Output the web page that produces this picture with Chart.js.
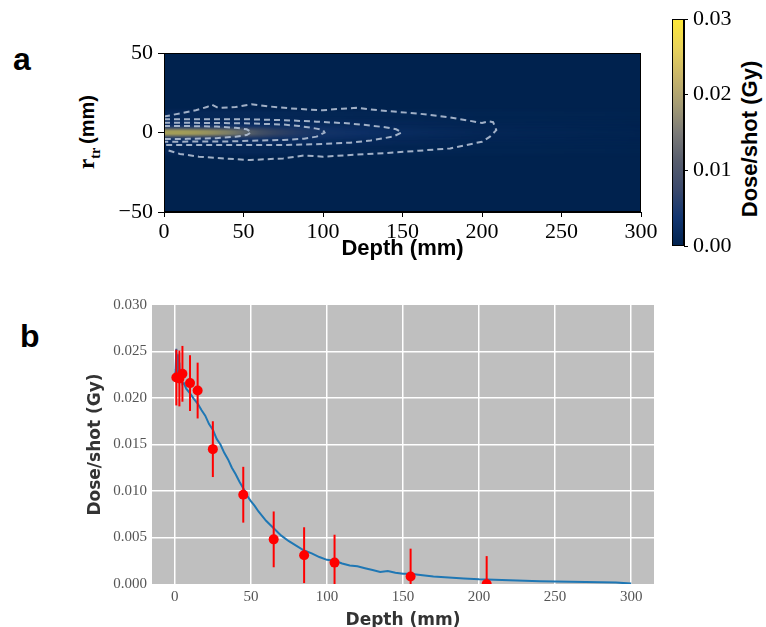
<!DOCTYPE html>
<html>
<head>
<meta charset="utf-8">
<script src="https://cdn.jsdelivr.net/npm/chart.js@4.4.1/dist/chart.umd.min.js"></script>
<style>
  body { margin: 0; background: #fff; }
  #page { position: relative; width: 766px; height: 627px; overflow: hidden; }
  canvas { position: absolute; }
  .panel { position: absolute; font-family: 'Liberation Sans', Arial, sans-serif; font-weight: bold; font-size: 32px; line-height: 32px; color: #000; }
  .rot { position: absolute; white-space: nowrap; transform: translate(-50%, -50%) rotate(-90deg); color: #000; }
</style>
</head>
<body>
<div id="page">
  <div class="panel" style="left:13px; top:43px;">a</div>
  <div class="panel" style="left:20px; top:320px;">b</div>
  <div class="rot" style="left:89px; top:132px;"><span style="font-family:'Liberation Serif'; font-weight:bold; font-size:23px;">r<sub style="font-size:14px;">tr</sub></span> <span style="font-family:'Liberation Sans'; font-weight:bold; font-size:20px;">(mm)</span></div>
  <div class="rot" style="left:750px; top:139px; font: bold 22px 'Liberation Sans';">Dose/shot (Gy)</div>
  <canvas id="map" width="660" height="290" style="left:0; top:0;"></canvas>
  <canvas id="cbar" width="116" height="290" style="left:650px; top:0;"></canvas>
  <canvas id="dose" width="766" height="337" style="left:0; top:290px;"></canvas>
</div>
<script>
// ---- panel a: dose map ----
const mapXTicks = [0, 50, 100, 150, 200, 250, 300];
const mapYTicks = [-50, 0, 50];
const cbarTicks = [0, 0.01, 0.02, 0.03];

// dose along depth in radial bands |r| (mm)
const heatDepth = [0, 10, 20, 30, 40, 50, 60, 70, 85, 100, 125, 150, 200, 300];
const bandEdges = [0, 1.5, 3, 5, 8, 14];
const band0 = [0.026, 0.026, 0.025, 0.023, 0.020, 0.016, 0.012, 0.009, 0.006, 0.0045, 0.0035, 0.0025, 0.0012, 0.0003];
const band1 = [0.013, 0.013, 0.012, 0.011, 0.010, 0.009, 0.008, 0.006, 0.005, 0.004, 0.003, 0.002, 0.001, 0.0002];
const band2 = [0.004, 0.004, 0.004, 0.004, 0.004, 0.0035, 0.0035, 0.003, 0.003, 0.0025, 0.002, 0.0015, 0.0008, 0.0002];
const band3 = [0.002, 0.002, 0.002, 0.002, 0.002, 0.002, 0.002, 0.002, 0.0018, 0.0015, 0.0012, 0.001, 0.0005, 0.0001];
const band4 = [0.001, 0.001, 0.001, 0.001, 0.001, 0.001, 0.001, 0.0009, 0.0008, 0.0007, 0.0006, 0.0005, 0.0003, 0.0001];
const bands = [band0, band1, band2, band3, band4];

// dashed iso-dose contours
const outerDepth = [0, 10, 20, 27, 30, 34, 45, 55, 65, 79, 90, 100, 112, 121, 140, 159, 180, 200, 204, 207, 209, 205, 200, 180, 160, 138, 120, 100, 88, 75, 54, 40, 22, 10, 2, 0];
const outerR     = [10, 12, 14, 16, 17.5, 15.5, 16, 17.8, 16.5, 15.2, 14.5, 14, 15, 15.5, 13.5, 12, 9.5, 6, 7, 6.5, 1.5, -2.6, -5.8, -10, -11.5, -13, -14, -15.2, -14.5, -16.3, -17.3, -16.5, -15.2, -13.5, -11, -11];
const c2Depth = [0, 30, 54, 75, 96, 115, 127, 140, 146, 149.5, 144, 130, 117, 95, 75, 40, 0];
const c2R     = [8.3, 8.3, 8.3, 7.8, 6.8, 5.8, 4.7, 3.2, 2, 0, -2.6, -5, -6.4, -7.4, -7.9, -7.9, -7.9];
const c3Depth = [0, 30, 54, 75, 85, 95, 100, 101, 96, 88, 75, 40, 0];
const c3R     = [6.2, 6, 5.7, 5, 4.1, 2.6, 1.6, 0, -2.6, -3.9, -4.7, -5.6, -5.8];
const c4Depth = [0, 20, 33, 45, 52, 55, 52, 45, 33, 15, 0];
const c4R     = [4.1, 4, 3.7, 3, 2, 0.2, -1.6, -2.6, -3.6, -4, -4.1];
const contours = [[outerDepth, outerR], [c2Depth, c2R], [c3Depth, c3R], [c4Depth, c4R]];

// ---- panel b: depth dose ----
const doseXTicks = [0, 50, 100, 150, 200, 250, 300];
const doseYTicks = [0, 0.005, 0.010, 0.015, 0.020, 0.025, 0.030];
const simDepth = [0, 0.5, 1, 1.5, 2, 2.5, 3, 3.5, 4, 5, 6, 7.5, 10, 12.5, 15, 17.5, 20, 22.5, 25, 27.5, 30, 32.5, 35, 37.5, 40, 42.5, 45, 47.5, 50, 52.5, 55, 57.5, 60, 65, 70, 75, 80, 85, 90, 95, 100, 105, 110, 115, 120, 125, 130, 135, 140, 145, 150, 155, 160, 170, 180, 190, 200, 210, 220, 230, 240, 250, 260, 270, 280, 290, 300];
const simDose  = [0.0222, 0.0231, 0.0253, 0.0221, 0.0247, 0.0220, 0.0238, 0.0218, 0.0224, 0.0215, 0.0216, 0.0210, 0.0205, 0.0199, 0.0194, 0.0187, 0.0181, 0.0172, 0.0166, 0.0156, 0.0150, 0.0141, 0.0134, 0.0125, 0.0118, 0.0110, 0.0103, 0.0095, 0.0089, 0.0084, 0.0078, 0.0073, 0.0068, 0.0060, 0.0052, 0.0046, 0.0041, 0.0036, 0.0033, 0.0029, 0.0026, 0.0025, 0.0022, 0.0020, 0.0019, 0.0017, 0.0015, 0.0013, 0.0014, 0.0012, 0.0011, 0.0011, 0.0010, 0.0008, 0.0007, 0.0006, 0.0005, 0.00045, 0.0004, 0.00035, 0.0003, 0.00028, 0.00025, 0.00022, 0.0002, 0.00015, 0.00005];
const measDepth = [1, 3, 5, 10, 15, 25, 45, 65, 85, 105, 155, 205];
const measDose  = [0.0222, 0.0221, 0.0226, 0.0216, 0.0208, 0.0145, 0.0096, 0.0048, 0.0031, 0.0023, 0.0008, 0.0];
const measErr   = [0.003, 0.003, 0.003, 0.003, 0.003, 0.003, 0.003, 0.003, 0.003, 0.003, 0.003, 0.003];

// cividis colormap stops
const cividisStops = [
  [0, [0, 34, 78]], [0.125, [18, 53, 112]], [0.25, [59, 73, 108]], [0.375, [87, 93, 109]],
  [0.5, [124, 123, 120]], [0.625, [165, 156, 116]], [0.75, [201, 182, 106]], [0.875, [233, 211, 90]], [1, [254, 232, 56]]
];
function cividis(t) {
  t = Math.max(0, Math.min(1, t));
  for (let i = 1; i < cividisStops.length; i++) {
    const [t1, c1] = cividisStops[i];
    const [t0, c0] = cividisStops[i - 1];
    if (t <= t1) {
      const f = (t - t0) / (t1 - t0);
      const c = c0.map((v, k) => Math.round(v + (c1[k] - v) * f));
      return `rgb(${c[0]},${c[1]},${c[2]})`;
    }
  }
  return 'rgb(254,232,56)';
}
const doseMax = cbarTicks[cbarTicks.length - 1];
const fixTicks = list => scale => { scale.ticks = list.map(v => ({ value: v })); };

// draws the dose map cells under the contours
const heatmapPlugin = {
  id: 'heatmap',
  beforeDatasetsDraw(chart) {
    const { ctx, chartArea: a, scales: { x, y } } = chart;
    ctx.save();
    ctx.beginPath();
    ctx.rect(a.left, a.top, a.width, a.height);
    ctx.clip();
    ctx.fillStyle = cividis(0);
    ctx.fillRect(a.left, a.top, a.width, a.height);
    ctx.filter = 'blur(1.5px)';
    const p0 = x.getPixelForValue(heatDepth[0]);
    const p1 = x.getPixelForValue(heatDepth[heatDepth.length - 1]);
    for (let b = bands.length - 1; b >= 0; b--) {
      const g = ctx.createLinearGradient(p0, 0, p1, 0);
      heatDepth.forEach((d, i) => {
        g.addColorStop((x.getPixelForValue(d) - p0) / (p1 - p0), cividis(bands[b][i] / doseMax));
      });
      ctx.fillStyle = g;
      const yIn = y.getPixelForValue(bandEdges[b]);
      const yOut = y.getPixelForValue(bandEdges[b + 1]);
      const yInN = y.getPixelForValue(-bandEdges[b]);
      const yOutN = y.getPixelForValue(-bandEdges[b + 1]);
      ctx.fillRect(a.left - 10, yOut, a.width + 20, yIn - yOut);
      ctx.fillRect(a.left - 10, yInN, a.width + 20, yOutN - yInN);
    }
    ctx.restore();
  }
};

const framePlugin = {
  id: 'frame',
  afterDraw(chart) {
    const { ctx, chartArea: a } = chart;
    ctx.save();
    ctx.strokeStyle = '#000';
    ctx.lineWidth = 1;
    ctx.strokeRect(a.left + 0.5, a.top + 0.5, a.width - 1, a.height - 1);
    ctx.restore();
  }
};

const serifTicks = size => ({ family: "'Liberation Serif', 'DejaVu Serif', serif", size: size });

new Chart(document.getElementById('map'), {
  type: 'scatter',
  data: {
    datasets: contours.map(([dx, dy]) => ({
      data: dx.map((d, i) => ({ x: d, y: dy[i] })),
      showLine: true,
      borderColor: 'rgba(178, 192, 212, 0.9)',
      borderWidth: 2,
      borderDash: [6, 4],
      pointRadius: 0,
      tension: 0,
      fill: false
    }))
  },
  options: {
    responsive: false,
    animation: false,
    layout: { padding: { left: 94, right: 19, top: 53, bottom: 24 } },
    plugins: { legend: { display: false }, tooltip: { enabled: false } },
    scales: {
      x: {
        type: 'linear', min: 0, max: 300,
        afterBuildTicks: fixTicks(mapXTicks),
        afterFit: s => { s.height = 54; },
        grid: { drawOnChartArea: false, tickLength: 5, tickColor: '#000' },
        border: { color: '#000' },
        ticks: { font: serifTicks(22), color: '#000', padding: 2, autoSkip: false, maxRotation: 0 },
        title: { display: true, text: 'Depth (mm)', color: '#000', font: { family: "'Liberation Sans', Arial, sans-serif", size: 22, weight: 'bold' }, padding: { top: 0, bottom: 4 } }
      },
      y: {
        type: 'linear', min: -50, max: 50,
        afterBuildTicks: fixTicks(mapYTicks),
        afterFit: s => { s.width = 70; },
        grid: { drawOnChartArea: false, tickLength: 6, tickColor: '#000' },
        border: { color: '#000' },
        ticks: { font: serifTicks(22), color: '#000', padding: 5, callback: v => v < 0 ? '\u2212' + Math.abs(v) : String(v) }
      }
    }
  },
  plugins: [heatmapPlugin, framePlugin]
});

// colour bar
new Chart(document.getElementById('cbar'), {
  type: 'bar',
  data: {
    labels: [''],
    datasets: [{
      data: [[cbarTicks[0], doseMax]],
      barPercentage: 1,
      categoryPercentage: 1,
      borderWidth: 0,
      backgroundColor: c => {
        const a = c.chart.chartArea;
        if (!a || !isFinite(a.top) || !isFinite(a.bottom)) return cividis(0);
        const g = c.chart.ctx.createLinearGradient(0, a.bottom, 0, a.top);
        cividisStops.forEach(([t]) => g.addColorStop(t, cividis(t)));
        return g;
      }
    }]
  },
  options: {
    responsive: false,
    animation: false,
    layout: { padding: { left: 22, right: 32, top: 19, bottom: 44 } },
    plugins: { legend: { display: false }, tooltip: { enabled: false } },
    scales: {
      x: { display: false },
      y: {
        position: 'right', min: 0, max: doseMax,
        afterBuildTicks: fixTicks(cbarTicks),
        afterFit: s => { s.width = 50; },
        grid: { drawOnChartArea: false, tickLength: 4, tickColor: '#000' },
        border: { color: '#000' },
        ticks: { font: serifTicks(22), color: '#000', padding: 5, callback: v => v.toFixed(2) }
      }
    }
  },
  plugins: [framePlugin]
});

// ---- panel b ----
const grayBgPlugin = {
  id: 'grayBg',
  beforeDraw(chart) {
    const { ctx, chartArea: a } = chart;
    ctx.save();
    ctx.fillStyle = '#bfbfbf';
    ctx.fillRect(a.left, a.top, a.width, a.height);
    ctx.restore();
  }
};

const errorBarPlugin = {
  id: 'errorBars',
  beforeDatasetDraw(chart, args) {
    if (args.index !== 0) return;
    const { ctx, chartArea: a, scales: { x, y } } = chart;
    ctx.save();
    ctx.beginPath();
    ctx.rect(a.left, a.top, a.width, a.height);
    ctx.clip();
    ctx.strokeStyle = '#ff0000';
    ctx.lineWidth = 2;
    measDepth.forEach((d, i) => {
      const px = x.getPixelForValue(d);
      ctx.beginPath();
      ctx.moveTo(px, y.getPixelForValue(measDose[i] - measErr[i]));
      ctx.lineTo(px, y.getPixelForValue(measDose[i] + measErr[i]));
      ctx.stroke();
    });
    ctx.restore();
  }
};

const gridColor = edges => c => (c.tick && edges.includes(c.tick.value)) ? 'rgba(0,0,0,0)' : '#ffffff';

new Chart(document.getElementById('dose'), {
  type: 'scatter',
  data: {
    datasets: [
      {
        label: 'Measured',
        data: measDepth.map((d, i) => ({ x: d, y: measDose[i] })),
        pointRadius: 5,
        pointBackgroundColor: '#ff0000',
        pointBorderWidth: 0,
        showLine: false
      },
      {
        label: 'Simulation',
        data: simDepth.map((d, i) => ({ x: d, y: simDose[i] })),
        showLine: true,
        borderColor: '#1f77b4',
        borderWidth: 2,
        pointRadius: 0,
        tension: 0,
        fill: false
      }
    ]
  },
  options: {
    responsive: false,
    animation: false,
    layout: { padding: { left: 81.6, right: 112, top: 15, bottom: 0 } },
    plugins: { legend: { display: false }, tooltip: { enabled: false } },
    scales: {
      x: {
        type: 'linear', min: -15, max: 315,
        afterBuildTicks: fixTicks(doseXTicks),
        afterFit: s => { s.height = 43; },
        grid: { color: '#ffffff', lineWidth: 1.5, drawTicks: false },
        border: { display: false },
        ticks: { font: serifTicks(15), color: '#555', padding: 4, autoSkip: false, maxRotation: 0 },
        title: { display: true, text: 'Depth (mm)', color: '#333', font: { family: "'DejaVu Sans', sans-serif", size: 17, weight: 'bold' }, padding: { top: 0, bottom: -4 } }
      },
      y: {
        type: 'linear', min: 0, max: 0.03,
        afterBuildTicks: fixTicks(doseYTicks),
        afterFit: s => { s.width = 70.4; },
        grid: { color: gridColor([0, 0.03]), lineWidth: 1.5, drawTicks: false },
        border: { display: false },
        ticks: { font: serifTicks(15), color: '#555', padding: 5, callback: v => v.toFixed(3) },
        title: { display: true, text: 'Dose/shot (Gy)', color: '#333', font: { family: "'DejaVu Sans', sans-serif", size: 17, weight: 'bold' }, padding: { top: 4, bottom: 4 } }
      }
    }
  },
  plugins: [grayBgPlugin, errorBarPlugin]
});
</script>
</body>
</html>
